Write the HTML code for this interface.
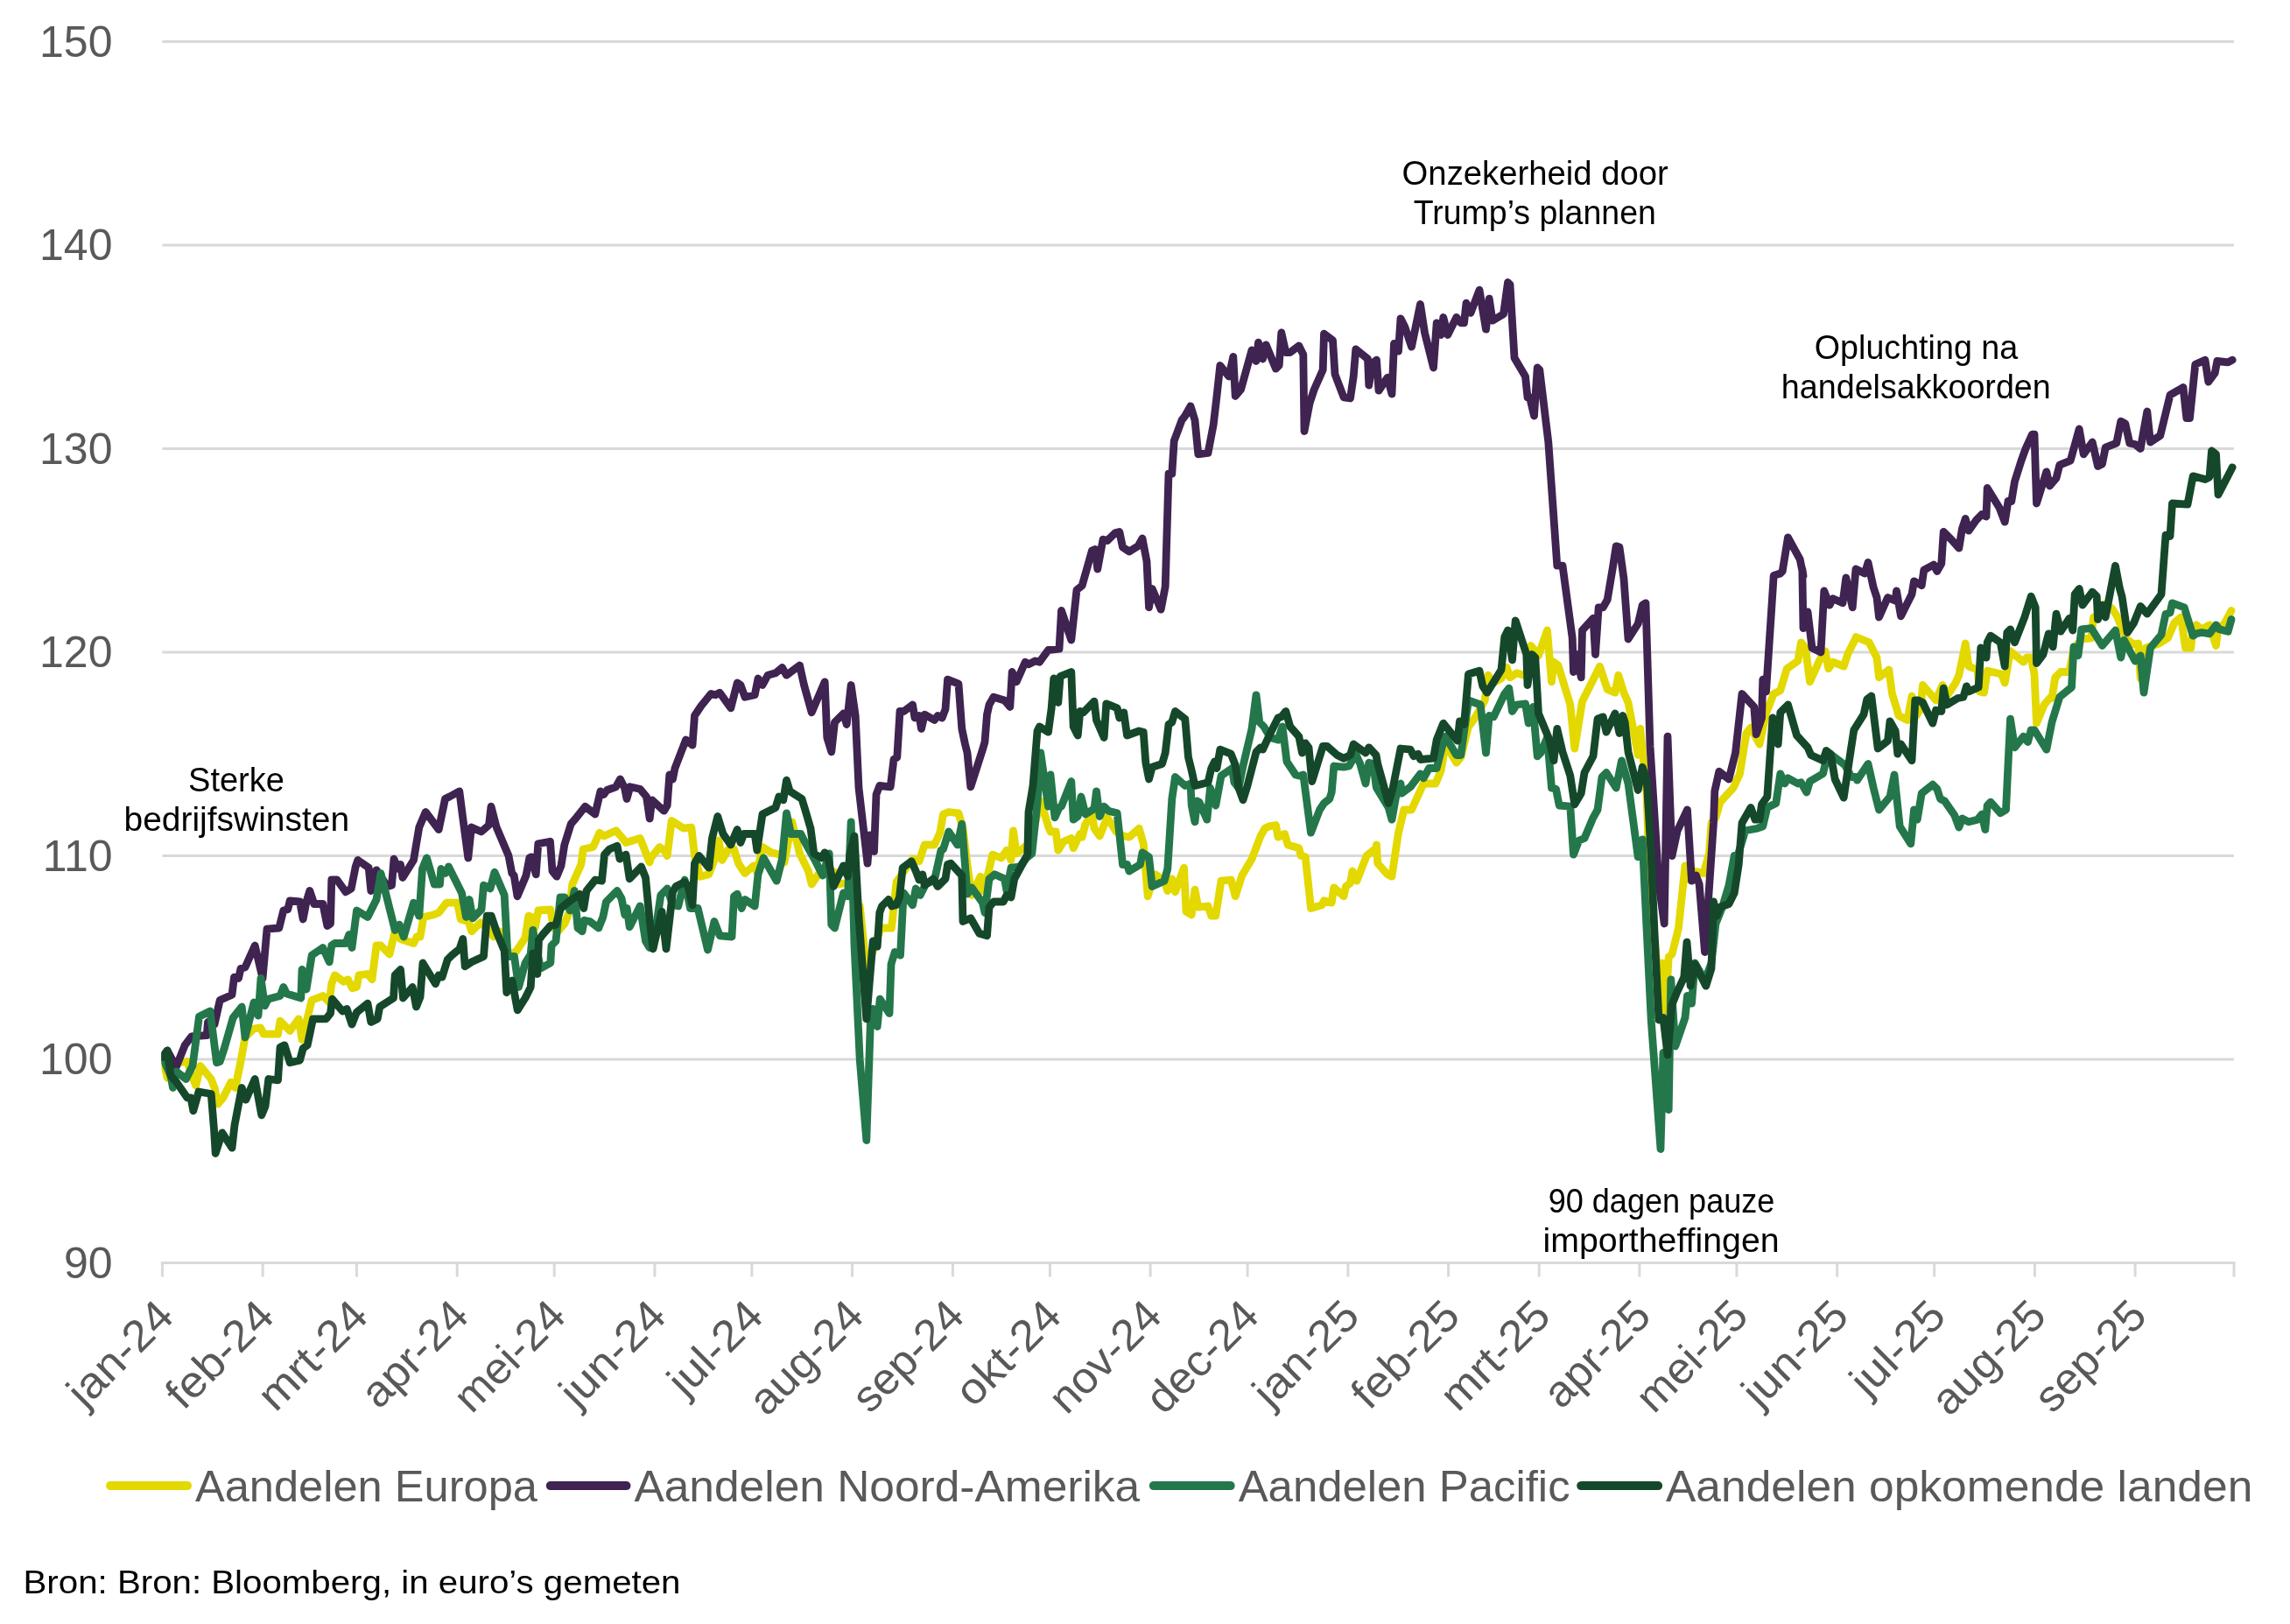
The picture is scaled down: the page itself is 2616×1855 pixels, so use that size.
<!DOCTYPE html>
<html lang="nl"><head><meta charset="utf-8"><title>Aandelen per regio</title>
<style>html,body{margin:0;padding:0;background:#fff}body{width:2616px;height:1855px;overflow:hidden}svg{display:block}text{font-family:"Liberation Sans",sans-serif}.ax{font-size:50px;fill:#595959}.an{font-size:38px;fill:#000}.src{font-size:37px;fill:#000}</style></head><body>
<svg width="2616" height="1855" viewBox="0 0 2616 1855">
<rect width="2616" height="1855" fill="#fff"/>
<line x1="185.4" y1="47.4" x2="2552.0" y2="47.4" stroke="#D9D9D9" stroke-width="3"/>
<line x1="185.4" y1="279.9" x2="2552.0" y2="279.9" stroke="#D9D9D9" stroke-width="3"/>
<line x1="185.4" y1="512.4" x2="2552.0" y2="512.4" stroke="#D9D9D9" stroke-width="3"/>
<line x1="185.4" y1="744.9" x2="2552.0" y2="744.9" stroke="#D9D9D9" stroke-width="3"/>
<line x1="185.4" y1="977.4" x2="2552.0" y2="977.4" stroke="#D9D9D9" stroke-width="3"/>
<line x1="185.4" y1="1209.9" x2="2552.0" y2="1209.9" stroke="#D9D9D9" stroke-width="3"/>
<line x1="183.9" y1="1442.4" x2="2553.5" y2="1442.4" stroke="#D9D9D9" stroke-width="3"/>
<line x1="185.4" y1="1442.4" x2="185.4" y2="1458.4" stroke="#D9D9D9" stroke-width="3"/>
<line x1="300.1" y1="1442.4" x2="300.1" y2="1458.4" stroke="#D9D9D9" stroke-width="3"/>
<line x1="407.4" y1="1442.4" x2="407.4" y2="1458.4" stroke="#D9D9D9" stroke-width="3"/>
<line x1="522.2" y1="1442.4" x2="522.2" y2="1458.4" stroke="#D9D9D9" stroke-width="3"/>
<line x1="633.2" y1="1442.4" x2="633.2" y2="1458.4" stroke="#D9D9D9" stroke-width="3"/>
<line x1="747.9" y1="1442.4" x2="747.9" y2="1458.4" stroke="#D9D9D9" stroke-width="3"/>
<line x1="858.9" y1="1442.4" x2="858.9" y2="1458.4" stroke="#D9D9D9" stroke-width="3"/>
<line x1="973.6" y1="1442.4" x2="973.6" y2="1458.4" stroke="#D9D9D9" stroke-width="3"/>
<line x1="1088.4" y1="1442.4" x2="1088.4" y2="1458.4" stroke="#D9D9D9" stroke-width="3"/>
<line x1="1199.4" y1="1442.4" x2="1199.4" y2="1458.4" stroke="#D9D9D9" stroke-width="3"/>
<line x1="1314.1" y1="1442.4" x2="1314.1" y2="1458.4" stroke="#D9D9D9" stroke-width="3"/>
<line x1="1425.1" y1="1442.4" x2="1425.1" y2="1458.4" stroke="#D9D9D9" stroke-width="3"/>
<line x1="1539.9" y1="1442.4" x2="1539.9" y2="1458.4" stroke="#D9D9D9" stroke-width="3"/>
<line x1="1654.6" y1="1442.4" x2="1654.6" y2="1458.4" stroke="#D9D9D9" stroke-width="3"/>
<line x1="1758.2" y1="1442.4" x2="1758.2" y2="1458.4" stroke="#D9D9D9" stroke-width="3"/>
<line x1="1872.9" y1="1442.4" x2="1872.9" y2="1458.4" stroke="#D9D9D9" stroke-width="3"/>
<line x1="1983.9" y1="1442.4" x2="1983.9" y2="1458.4" stroke="#D9D9D9" stroke-width="3"/>
<line x1="2098.7" y1="1442.4" x2="2098.7" y2="1458.4" stroke="#D9D9D9" stroke-width="3"/>
<line x1="2209.7" y1="1442.4" x2="2209.7" y2="1458.4" stroke="#D9D9D9" stroke-width="3"/>
<line x1="2324.4" y1="1442.4" x2="2324.4" y2="1458.4" stroke="#D9D9D9" stroke-width="3"/>
<line x1="2439.1" y1="1442.4" x2="2439.1" y2="1458.4" stroke="#D9D9D9" stroke-width="3"/>
<line x1="2552.0" y1="1442.4" x2="2552.0" y2="1458.4" stroke="#D9D9D9" stroke-width="3"/>
<g opacity="0.999">
<text class="ax" x="128.5" y="64.7" text-anchor="end">150</text>
<text class="ax" x="128.5" y="297.2" text-anchor="end">140</text>
<text class="ax" x="128.5" y="529.7" text-anchor="end">130</text>
<text class="ax" x="128.5" y="762.2" text-anchor="end">120</text>
<text class="ax" x="128.5" y="994.7" text-anchor="end">110</text>
<text class="ax" x="128.5" y="1227.2" text-anchor="end">100</text>
<text class="ax" x="128.5" y="1459.7" text-anchor="end">90</text>
<text class="ax" transform="translate(201.1 1505.8) rotate(-45)" text-anchor="end" textLength="147.3" lengthAdjust="spacingAndGlyphs">jan-24</text>
<text class="ax" transform="translate(315.8 1505.8) rotate(-45)" text-anchor="end" textLength="150.3" lengthAdjust="spacingAndGlyphs">feb-24</text>
<text class="ax" transform="translate(423.1 1505.8) rotate(-45)" text-anchor="end" textLength="153.2" lengthAdjust="spacingAndGlyphs">mrt-24</text>
<text class="ax" transform="translate(537.9 1505.8) rotate(-45)" text-anchor="end" textLength="148.8" lengthAdjust="spacingAndGlyphs">apr-24</text>
<text class="ax" transform="translate(648.9 1505.8) rotate(-45)" text-anchor="end" textLength="155.9" lengthAdjust="spacingAndGlyphs">mei-24</text>
<text class="ax" transform="translate(763.6 1505.8) rotate(-45)" text-anchor="end" textLength="147.3" lengthAdjust="spacingAndGlyphs">jun-24</text>
<text class="ax" transform="translate(874.6 1505.8) rotate(-45)" text-anchor="end" textLength="129.6" lengthAdjust="spacingAndGlyphs">jul-24</text>
<text class="ax" transform="translate(989.3 1505.8) rotate(-45)" text-anchor="end" textLength="160.4" lengthAdjust="spacingAndGlyphs">aug-24</text>
<text class="ax" transform="translate(1104.1 1505.8) rotate(-45)" text-anchor="end" textLength="156.0" lengthAdjust="spacingAndGlyphs">sep-24</text>
<text class="ax" transform="translate(1215.1 1505.8) rotate(-45)" text-anchor="end" textLength="146.0" lengthAdjust="spacingAndGlyphs">okt-24</text>
<text class="ax" transform="translate(1329.8 1505.8) rotate(-45)" text-anchor="end" textLength="157.5" lengthAdjust="spacingAndGlyphs">nov-24</text>
<text class="ax" transform="translate(1440.8 1505.8) rotate(-45)" text-anchor="end" textLength="157.5" lengthAdjust="spacingAndGlyphs">dec-24</text>
<text class="ax" transform="translate(1555.6 1505.8) rotate(-45)" text-anchor="end" textLength="147.3" lengthAdjust="spacingAndGlyphs">jan-25</text>
<text class="ax" transform="translate(1670.3 1505.8) rotate(-45)" text-anchor="end" textLength="150.3" lengthAdjust="spacingAndGlyphs">feb-25</text>
<text class="ax" transform="translate(1773.9 1505.8) rotate(-45)" text-anchor="end" textLength="153.2" lengthAdjust="spacingAndGlyphs">mrt-25</text>
<text class="ax" transform="translate(1888.6 1505.8) rotate(-45)" text-anchor="end" textLength="148.8" lengthAdjust="spacingAndGlyphs">apr-25</text>
<text class="ax" transform="translate(1999.6 1505.8) rotate(-45)" text-anchor="end" textLength="155.9" lengthAdjust="spacingAndGlyphs">mei-25</text>
<text class="ax" transform="translate(2114.4 1505.8) rotate(-45)" text-anchor="end" textLength="147.3" lengthAdjust="spacingAndGlyphs">jun-25</text>
<text class="ax" transform="translate(2225.4 1505.8) rotate(-45)" text-anchor="end" textLength="129.6" lengthAdjust="spacingAndGlyphs">jul-25</text>
<text class="ax" transform="translate(2340.1 1505.8) rotate(-45)" text-anchor="end" textLength="160.4" lengthAdjust="spacingAndGlyphs">aug-25</text>
<text class="ax" transform="translate(2454.8 1505.8) rotate(-45)" text-anchor="end" textLength="156.0" lengthAdjust="spacingAndGlyphs">sep-25</text>
</g>
<clipPath id="plot"><rect x="184.4" y="0" width="2396.6" height="1600"/></clipPath><g clip-path="url(#plot)">
<path d="M185.5 1207.5 L191.2 1231.2 L197.5 1215.0 L213.8 1212.5 L221.2 1233.8 L223.8 1240.0 L228.8 1217.5 L241.2 1232.5 L245.0 1242.5 L248.8 1261.2 L255.0 1253.8 L263.8 1236.2 L268.8 1242.5 L275.0 1212.5 L280.0 1185.0 L290.0 1175.0 L297.5 1173.8 L301.2 1181.2 L317.5 1181.2 L320.0 1166.2 L331.2 1177.5 L341.2 1163.8 L345.0 1187.5 L356.2 1142.5 L368.8 1137.5 L376.2 1145.0 L378.8 1123.8 L382.5 1113.8 L392.5 1121.2 L397.5 1118.8 L402.5 1128.8 L407.5 1127.5 L410.0 1113.8 L420.0 1112.5 L425.0 1118.8 L430.0 1080.0 L435.0 1080.0 L445.0 1090.0 L451.2 1063.8 L457.5 1072.5 L472.5 1077.5 L476.2 1070.0 L480.0 1070.0 L483.8 1047.5 L495.0 1045.0 L501.2 1042.5 L510.0 1031.2 L522.5 1031.2 L526.2 1050.0 L535.0 1052.5 L538.8 1063.8 L548.8 1053.8 L560.0 1063.8 L563.8 1070.0 L571.2 1063.8 L580.0 1092.5 L590.0 1086.2 L600.0 1071.2 L603.8 1046.2 L607.5 1047.5 L611.2 1060.0 L615.0 1040.0 L628.8 1038.8 L632.5 1060.0 L637.5 1063.8 L645.0 1055.0 L650.0 1042.5 L653.8 1010.0 L663.8 987.5 L666.2 970.0 L677.5 967.5 L685.0 951.2 L690.0 955.0 L703.8 948.8 L711.2 957.5 L715.0 962.5 L731.2 957.5 L736.2 970.0 L742.0 985.0 L743.5 980.0 L753.5 967.5 L759.8 972.5 L762.2 977.5 L767.2 937.5 L781.0 946.2 L789.8 945.0 L793.5 977.5 L799.8 1001.2 L809.8 998.8 L816.0 982.5 L821.0 960.0 L824.8 982.5 L832.2 970.0 L838.5 970.0 L843.5 986.2 L851.0 997.5 L861.0 988.8 L864.8 996.2 L871.0 967.5 L881.0 973.8 L891.0 976.2 L896.0 985.0 L904.8 938.8 L913.5 975.0 L923.5 995.0 L927.2 1010.0 L934.8 998.8 L953.5 996.2 L958.5 1010.0 L971.0 1007.5 L978.5 1035.0 L982.2 1035.0 L989.8 1107.5 L996.0 1090.0 L1006.0 1060.0 L1018.5 1060.0 L1024.0 1007.5 L1025.0 1006.2 L1036.2 990.0 L1042.5 981.2 L1050.0 983.8 L1056.2 965.0 L1067.5 965.0 L1073.8 951.2 L1077.5 930.0 L1083.8 927.5 L1095.0 928.8 L1100.0 946.2 L1105.0 987.5 L1110.0 1022.5 L1120.0 1001.2 L1122.5 1017.5 L1127.5 1003.8 L1133.8 976.2 L1143.8 980.0 L1150.0 971.2 L1155.0 982.5 L1157.5 948.8 L1161.2 975.0 L1173.8 965.0 L1182.5 940.0 L1188.8 915.0 L1197.5 943.8 L1200.0 950.0 L1206.2 950.0 L1208.8 971.2 L1215.0 961.2 L1223.8 957.5 L1226.2 968.8 L1233.8 952.5 L1236.2 956.2 L1240.0 941.2 L1247.5 930.0 L1250.0 946.2 L1256.2 955.0 L1261.2 942.5 L1265.0 933.8 L1275.0 950.0 L1283.8 955.0 L1290.0 956.2 L1301.2 946.2 L1306.2 963.8 L1311.2 1023.8 L1315.0 1011.2 L1320.0 998.8 L1330.0 1006.2 L1333.8 1017.5 L1338.8 1003.8 L1342.5 1018.8 L1352.5 991.2 L1355.0 1041.2 L1361.2 1045.0 L1365.0 1016.2 L1368.8 1036.2 L1380.0 1035.0 L1383.8 1046.2 L1388.8 1046.2 L1395.0 1006.2 L1406.2 1005.0 L1411.2 1023.8 L1418.8 1000.0 L1430.0 981.2 L1440.0 955.0 L1445.0 946.2 L1450.0 943.8 L1457.5 942.5 L1460.0 956.2 L1467.5 952.5 L1471.2 965.0 L1483.8 968.8 L1486.2 977.5 L1491.2 978.8 L1497.5 1037.5 L1510.0 1033.8 L1512.5 1028.8 L1521.2 1031.2 L1523.8 1013.8 L1535.0 1023.8 L1537.5 1012.5 L1542.5 1008.8 L1545.0 995.0 L1550.0 1006.2 L1561.2 977.5 L1572.0 968.8 L1572.5 965.0 L1573.8 986.2 L1585.0 998.8 L1590.0 1001.2 L1597.5 951.2 L1603.8 925.0 L1612.5 925.0 L1626.2 895.0 L1640.0 895.0 L1646.2 880.0 L1651.2 850.0 L1663.8 871.2 L1668.8 865.0 L1677.5 830.0 L1685.0 820.0 L1696.2 800.0 L1700.0 771.2 L1706.2 780.0 L1715.0 775.0 L1721.2 762.5 L1725.0 773.8 L1732.5 768.8 L1745.0 772.5 L1748.8 737.5 L1757.5 748.8 L1767.5 720.0 L1772.5 778.8 L1775.0 756.2 L1780.0 760.0 L1793.8 805.0 L1798.8 855.0 L1807.5 801.2 L1817.5 781.2 L1827.5 761.2 L1836.2 787.5 L1845.0 791.2 L1848.8 771.2 L1855.0 791.2 L1860.0 802.5 L1866.2 835.0 L1871.2 862.5 L1873.8 832.5 L1877.5 870.0 L1881.0 905.0 L1884.5 1010.0 L1895.0 1125.0 L1898.8 1100.0 L1902.5 1157.0 L1906.2 1093.0 L1910.0 1090.0 L1917.5 1060.0 L1925.0 988.8 L1930.0 1005.0 L1935.0 995.0 L1946.2 997.5 L1952.5 975.0 L1955.0 940.0 L1960.0 933.8 L1965.0 916.2 L1980.0 900.0 L1987.5 883.8 L1995.0 837.5 L2000.0 831.2 L2010.0 850.0 L2017.5 815.0 L2026.2 792.5 L2033.8 788.8 L2041.2 763.8 L2053.8 755.0 L2057.5 733.8 L2062.5 740.0 L2067.5 778.8 L2078.8 753.8 L2085.0 743.8 L2088.8 763.8 L2093.8 756.2 L2106.2 761.2 L2111.2 746.2 L2120.0 728.8 L2120.2 727.5 L2135.2 733.8 L2144.0 751.2 L2146.5 773.8 L2157.8 765.0 L2161.5 792.5 L2166.5 808.8 L2169.0 817.5 L2179.0 822.5 L2184.0 795.0 L2189.0 817.5 L2194.0 810.0 L2196.5 782.5 L2211.5 800.0 L2219.0 782.5 L2224.0 795.0 L2234.0 780.0 L2237.8 771.2 L2242.8 747.5 L2245.2 735.0 L2249.0 761.2 L2259.0 765.0 L2261.5 790.0 L2266.5 791.2 L2270.2 766.2 L2286.5 770.0 L2290.2 780.0 L2296.5 743.8 L2304.0 750.0 L2311.5 756.2 L2315.2 751.2 L2320.2 751.2 L2324.0 770.0 L2326.5 826.2 L2335.2 805.0 L2341.5 797.5 L2344.0 797.5 L2347.8 773.8 L2354.0 767.5 L2364.0 767.5 L2369.0 740.0 L2379.0 730.0 L2389.0 728.8 L2391.5 705.0 L2399.0 702.5 L2404.0 690.0 L2412.8 695.0 L2419.0 705.0 L2429.0 730.0 L2437.8 736.2 L2442.8 735.0 L2445.2 775.0 L2451.5 740.0 L2466.5 735.0 L2476.5 728.8 L2484.0 711.2 L2491.5 705.0 L2496.5 740.0 L2502.8 740.0 L2505.2 717.5 L2509.0 713.8 L2515.2 718.8 L2524.0 713.8 L2531.5 737.5 L2534.0 716.2 L2540.2 713.8 L2549.0 697.5" fill="none" stroke="#E3D800" stroke-width="8.8" stroke-linejoin="round" stroke-linecap="round"/>
<path d="M185.5 1207.5 L191.2 1200.0 L201.2 1218.8 L211.2 1193.8 L218.8 1183.8 L236.2 1182.5 L237.5 1167.5 L245.0 1170.0 L251.2 1142.5 L265.0 1136.2 L267.5 1116.2 L272.5 1117.5 L275.0 1106.2 L280.0 1105.0 L291.2 1080.0 L300.0 1117.5 L305.0 1061.2 L318.8 1060.0 L323.8 1040.0 L328.8 1038.8 L331.2 1028.8 L342.5 1030.0 L346.2 1050.0 L350.0 1030.0 L353.8 1017.5 L358.8 1032.5 L368.8 1032.5 L373.8 1057.5 L377.5 1055.0 L378.8 1005.0 L385.0 1005.0 L395.0 1018.8 L401.2 1015.0 L406.2 990.0 L408.8 982.5 L421.2 991.2 L423.8 1017.5 L427.5 1002.5 L430.0 993.8 L442.5 1012.5 L447.5 1011.2 L450.0 981.2 L455.0 992.5 L457.5 987.5 L460.0 1002.5 L472.5 982.5 L478.8 945.0 L486.2 927.5 L501.2 947.5 L508.5 912.5 L513.5 910.0 L524.8 903.8 L528.5 932.5 L534.8 980.0 L538.5 945.0 L549.8 950.0 L558.5 942.5 L561.0 921.2 L567.2 945.0 L581.0 977.5 L584.8 997.5 L587.2 1000.0 L591.0 1023.8 L601.0 1000.0 L604.8 980.0 L607.2 978.8 L612.2 998.8 L614.8 963.8 L628.5 961.2 L631.0 995.0 L636.0 1001.2 L641.0 988.8 L644.8 965.0 L652.2 941.2 L658.5 933.8 L668.5 921.2 L679.8 930.0 L686.0 903.8 L689.8 907.5 L693.5 902.5 L703.5 898.8 L708.5 890.0 L713.5 900.0 L716.0 912.5 L719.8 898.8 L731.0 901.2 L738.5 910.0 L742.2 935.0 L744.8 913.8 L758.5 926.2 L762.2 920.0 L764.8 885.0 L768.5 890.0 L771.0 877.5 L783.5 845.0 L791.0 851.2 L793.5 817.5 L801.0 806.2 L812.2 792.5 L817.2 793.8 L822.2 791.2 L834.8 808.8 L842.2 780.0 L846.0 782.5 L851.0 796.2 L862.2 793.8 L866.0 775.0 L871.0 782.5 L877.2 771.2 L886.0 768.8 L893.5 762.5 L898.5 771.2 L913.5 760.0 L918.5 782.5 L927.2 813.8 L942.2 778.8 L944.8 842.5 L949.8 858.8 L953.5 825.0 L963.5 815.0 L967.2 827.5 L972.2 782.5 L977.2 817.5 L981.0 900.0 L991.0 986.2 L993.5 953.8 L998.5 972.5 L1001.0 907.5 L1004.8 897.5 L1017.2 898.8 L1021.0 867.5 L1024.8 865.0 L1028.0 812.5 L1032.5 812.5 L1042.5 805.0 L1045.0 820.0 L1050.0 817.5 L1052.5 832.5 L1056.2 816.2 L1067.5 822.5 L1071.2 817.5 L1076.2 820.0 L1080.0 810.0 L1082.5 776.2 L1095.0 781.2 L1098.8 832.5 L1102.5 850.0 L1105.0 860.0 L1108.8 898.8 L1122.5 856.2 L1125.0 847.5 L1127.5 816.2 L1130.0 805.0 L1135.0 796.2 L1147.5 800.0 L1153.8 807.5 L1156.2 767.5 L1161.2 778.8 L1171.2 756.2 L1175.0 758.8 L1182.5 755.0 L1187.5 756.2 L1197.5 742.5 L1210.0 741.2 L1212.5 697.5 L1223.8 731.0 L1230.0 673.8 L1236.2 668.8 L1247.5 628.8 L1251.2 627.5 L1253.8 650.0 L1260.0 616.2 L1265.0 617.5 L1273.8 608.8 L1278.8 607.5 L1282.5 625.0 L1290.0 630.0 L1300.0 623.8 L1305.0 615.0 L1310.0 641.2 L1312.5 693.8 L1316.2 672.5 L1326.2 696.2 L1331.2 670.0 L1335.0 541.2 L1338.8 541.2 L1341.2 503.8 L1350.0 480.0 L1353.8 475.0 L1360.0 463.8 L1365.0 480.0 L1368.8 518.8 L1380.0 517.5 L1386.2 485.0 L1390.0 452.5 L1393.8 417.5 L1403.8 430.0 L1408.8 407.5 L1411.2 452.5 L1417.5 445.0 L1430.0 400.0 L1435.0 412.5 L1437.5 391.2 L1442.5 410.0 L1446.2 393.8 L1457.5 421.2 L1461.2 417.5 L1463.8 380.0 L1468.8 402.5 L1473.8 402.5 L1483.8 395.0 L1488.8 405.0 L1490.0 492.5 L1496.2 460.0 L1501.2 445.0 L1511.2 422.5 L1512.5 381.2 L1522.5 388.8 L1525.0 427.5 L1535.0 453.8 L1542.5 455.0 L1546.2 430.0 L1548.8 398.8 L1562.5 410.0 L1563.8 440.0 L1567.5 415.0 L1572.5 411.2 L1575.0 446.2 L1585.0 431.2 L1590.0 450.0 L1592.5 392.5 L1597.5 401.2 L1600.0 363.8 L1605.0 373.8 L1612.5 396.2 L1622.5 347.5 L1627.5 380.0 L1637.5 420.0 L1641.2 368.8 L1646.2 382.5 L1648.8 362.5 L1653.8 382.5 L1663.8 362.5 L1668.8 368.8 L1672.5 368.8 L1675.0 346.2 L1680.0 357.5 L1690.0 331.2 L1697.5 376.2 L1701.2 341.2 L1705.0 366.2 L1717.5 358.8 L1722.5 322.5 L1725.0 325.0 L1730.0 408.8 L1742.5 430.0 L1745.0 453.8 L1747.5 453.8 L1752.5 475.0 L1756.2 420.0 L1758.8 422.5 L1768.8 505.0 L1778.8 646.2 L1785.0 646.2 L1796.2 728.8 L1797.5 767.5 L1801.2 747.5 L1806.2 773.8 L1807.5 720.0 L1820.0 706.2 L1822.5 747.5 L1826.2 693.8 L1831.2 693.8 L1836.2 685.0 L1842.5 647.5 L1846.2 623.8 L1850.0 625.0 L1855.0 661.2 L1860.0 730.0 L1871.2 712.5 L1876.2 691.2 L1880.0 688.8 L1885.0 852.5 L1895.0 1010.0 L1901.2 1055.0 L1905.0 841.2 L1910.0 977.5 L1916.2 948.8 L1927.5 925.0 L1932.5 1006.2 L1937.5 1000.0 L1941.2 1010.0 L1947.5 1087.5 L1957.5 940.0 L1958.8 903.8 L1963.8 881.2 L1975.0 890.0 L1982.5 860.0 L1990.0 792.5 L2003.8 807.5 L2006.2 838.8 L2012.5 820.0 L2013.8 776.2 L2017.5 790.0 L2026.2 657.5 L2033.8 655.0 L2036.2 652.5 L2042.5 613.8 L2056.2 638.8 L2060.0 657.5 L2058.8 650.0 L2060.0 717.5 L2065.0 698.8 L2070.0 740.0 L2080.0 745.0 L2083.8 675.0 L2090.0 691.2 L2093.8 683.8 L2105.0 688.8 L2108.8 660.0 L2116.2 693.8 L2120.0 650.0 L2130.2 655.0 L2134.0 642.5 L2140.2 671.2 L2144.0 682.5 L2146.5 705.0 L2156.5 682.5 L2165.2 686.2 L2166.5 675.0 L2171.5 703.8 L2184.0 678.8 L2186.5 663.8 L2195.2 668.8 L2197.8 651.2 L2209.0 645.0 L2212.8 652.5 L2217.8 643.8 L2220.2 607.5 L2229.0 616.2 L2237.8 626.2 L2241.5 603.8 L2245.2 592.5 L2249.0 606.2 L2257.8 593.8 L2264.0 587.5 L2269.0 590.0 L2270.2 557.5 L2284.0 580.0 L2290.2 596.2 L2294.0 572.5 L2297.8 572.5 L2301.5 550.0 L2309.0 526.2 L2314.0 512.5 L2321.5 496.2 L2324.0 496.2 L2326.5 575.0 L2337.8 538.8 L2341.5 555.0 L2349.0 546.2 L2352.8 531.2 L2365.2 526.2 L2375.2 490.0 L2380.2 518.8 L2390.2 505.0 L2396.5 532.5 L2401.5 530.0 L2405.2 511.2 L2417.8 506.2 L2422.8 481.2 L2427.8 483.8 L2432.8 506.2 L2439.0 507.5 L2445.2 512.5 L2452.8 470.0 L2456.5 505.0 L2467.8 497.5 L2479.0 451.2 L2487.8 446.2 L2494.0 442.5 L2497.8 477.5 L2501.5 477.5 L2507.8 416.2 L2519.0 411.2 L2522.8 436.2 L2530.2 426.2 L2532.8 412.5 L2545.2 413.8 L2550.2 411.2" fill="none" stroke="#3F2350" stroke-width="8.8" stroke-linejoin="round" stroke-linecap="round"/>
<path d="M185.5 1207.5 L195.0 1228.8 L197.5 1242.5 L201.2 1223.8 L212.5 1232.5 L220.0 1217.5 L227.5 1161.2 L240.0 1155.0 L247.5 1213.8 L251.2 1212.5 L256.2 1197.5 L266.2 1162.5 L276.2 1150.0 L280.0 1185.0 L290.0 1145.0 L295.0 1160.0 L298.0 1117.5 L302.5 1148.8 L306.2 1141.2 L320.0 1137.5 L323.8 1127.5 L327.5 1135.0 L343.8 1140.0 L345.0 1107.5 L350.0 1130.0 L356.2 1091.2 L368.8 1082.5 L376.2 1098.8 L378.8 1080.0 L382.5 1077.5 L395.0 1077.5 L398.8 1067.5 L402.0 1082.5 L407.5 1040.0 L420.0 1047.5 L430.0 1027.5 L435.0 997.5 L451.2 1062.5 L456.2 1056.2 L461.2 1070.0 L472.5 1031.2 L478.8 1046.2 L482.5 992.5 L487.5 980.0 L496.2 1010.0 L502.5 1010.0 L503.8 992.5 L508.8 997.5 L512.5 990.0 L527.5 1020.0 L532.5 1047.5 L536.2 1027.5 L540.0 1048.8 L550.0 1038.8 L552.5 1011.2 L560.0 1015.0 L565.0 996.2 L576.2 1022.5 L580.0 1092.5 L587.5 1092.5 L592.5 1127.5 L600.0 1100.0 L606.2 1090.0 L608.8 1062.5 L617.5 1106.2 L628.8 1100.0 L630.0 1080.0 L635.0 1075.0 L640.0 1025.0 L645.0 1025.0 L651.2 1040.0 L656.2 1017.5 L660.0 1060.0 L665.0 1063.8 L667.5 1051.2 L673.8 1052.5 L683.8 1060.0 L688.8 1047.5 L692.5 1030.0 L705.0 1017.5 L710.0 1026.2 L713.8 1045.0 L716.2 1037.5 L719.2 1058.8 L731.2 1035.0 L737.5 1075.0 L742.0 1082.5 L746.0 1082.5 L754.8 1022.5 L762.2 1015.0 L768.5 1033.8 L774.8 1035.0 L782.2 1005.0 L788.5 1037.5 L797.2 1037.5 L808.5 1085.0 L816.0 1052.5 L822.2 1068.8 L836.0 1070.0 L838.5 1023.8 L842.2 1021.2 L847.2 1037.5 L851.0 1027.5 L862.2 1035.0 L866.0 998.8 L872.2 980.0 L887.2 1006.2 L893.5 981.2 L898.5 928.8 L903.5 952.5 L914.8 952.5 L918.5 960.0 L931.0 982.5 L939.8 1000.0 L947.2 975.0 L949.8 1056.2 L953.5 1060.0 L963.5 1020.0 L968.5 1023.8 L972.2 938.8 L976.0 1080.0 L982.2 1210.0 L989.8 1302.5 L994.8 1155.0 L997.2 1152.5 L1002.2 1172.5 L1005.2 1141.2 L1016.0 1157.5 L1018.0 1101.2 L1022.2 1087.5 L1028.5 1091.2 L1032.2 1020.0 L1042.5 1033.8 L1046.2 1015.0 L1051.2 1022.5 L1057.5 1010.0 L1067.5 1005.0 L1075.0 971.2 L1077.5 970.0 L1083.8 950.0 L1093.8 965.0 L1098.8 941.2 L1105.0 1021.2 L1110.0 1013.8 L1122.5 1031.2 L1125.0 1042.5 L1130.0 1003.8 L1136.2 998.8 L1147.5 1003.8 L1150.0 1017.5 L1155.0 991.2 L1165.0 990.0 L1172.5 980.0 L1178.8 975.0 L1185.0 917.5 L1188.8 860.0 L1197.5 921.2 L1200.0 885.0 L1205.0 933.8 L1210.0 922.5 L1212.5 921.2 L1223.8 892.5 L1226.2 936.2 L1231.2 932.5 L1235.0 910.0 L1240.0 930.0 L1250.0 923.8 L1252.5 903.8 L1256.2 932.5 L1261.2 921.2 L1266.2 926.2 L1276.2 928.8 L1282.5 987.5 L1287.5 987.5 L1290.0 995.0 L1302.5 987.5 L1305.0 973.8 L1312.5 978.8 L1316.2 1012.5 L1330.0 1006.2 L1333.8 992.5 L1338.8 912.5 L1342.5 887.5 L1353.8 897.5 L1360.0 895.0 L1361.2 920.0 L1365.0 938.8 L1367.5 915.0 L1370.0 916.2 L1378.8 936.2 L1382.5 900.0 L1388.8 920.0 L1395.0 886.2 L1407.5 877.5 L1410.0 893.8 L1415.0 900.0 L1420.0 875.0 L1430.0 832.5 L1435.0 793.8 L1438.8 825.0 L1443.8 830.0 L1451.2 842.5 L1460.0 845.0 L1465.0 830.0 L1470.0 870.0 L1480.0 885.0 L1485.0 886.2 L1488.8 885.0 L1497.5 951.2 L1507.5 925.0 L1512.5 917.5 L1518.8 912.5 L1521.2 905.0 L1523.8 875.0 L1535.0 876.2 L1541.2 875.0 L1548.8 861.2 L1553.8 872.5 L1560.0 895.0 L1563.8 871.2 L1568.8 872.5 L1572.0 897.5 L1572.5 900.0 L1586.2 922.5 L1590.0 936.2 L1596.2 901.2 L1600.0 895.0 L1601.2 906.2 L1611.2 898.8 L1622.5 883.8 L1626.2 888.8 L1632.5 877.5 L1641.2 877.5 L1647.5 852.5 L1651.2 841.2 L1663.8 862.5 L1668.8 862.5 L1677.5 800.0 L1691.2 805.0 L1697.5 860.0 L1701.2 817.5 L1706.2 818.8 L1718.8 792.5 L1723.8 786.2 L1727.5 812.5 L1732.5 805.0 L1742.5 803.8 L1746.2 826.2 L1751.2 807.5 L1756.2 863.8 L1760.0 860.0 L1767.5 842.5 L1772.5 900.0 L1777.5 901.2 L1781.2 920.0 L1793.8 921.2 L1797.5 976.2 L1803.8 960.0 L1810.0 957.5 L1820.0 933.8 L1825.0 925.0 L1830.0 887.5 L1835.0 882.5 L1846.2 900.0 L1852.5 868.8 L1860.0 895.0 L1871.2 978.8 L1876.2 958.8 L1878.8 1015.0 L1886.2 1165.0 L1897.0 1312.5 L1900.0 1202.5 L1906.2 1267.5 L1908.8 1118.8 L1913.8 1195.0 L1925.0 1162.5 L1927.5 1137.5 L1932.5 1146.2 L1936.2 1100.0 L1947.5 1120.0 L1955.0 1100.0 L1960.0 1055.0 L1967.5 1036.2 L1975.0 1011.2 L1981.2 977.5 L1985.0 977.5 L1993.8 948.8 L2007.5 946.2 L2013.8 943.8 L2018.8 922.5 L2028.8 917.5 L2033.8 883.8 L2038.8 895.0 L2042.5 888.8 L2053.8 895.0 L2057.5 893.8 L2063.8 905.0 L2067.5 892.5 L2082.5 883.8 L2087.5 862.5 L2092.5 862.5 L2107.5 873.8 L2115.0 887.5 L2120.0 887.5 L2121.5 891.2 L2134.0 872.5 L2140.2 900.0 L2146.5 925.0 L2159.0 910.0 L2164.0 885.0 L2170.2 943.8 L2182.8 963.8 L2186.5 925.0 L2190.2 936.2 L2195.2 906.2 L2207.8 896.2 L2212.8 901.2 L2216.5 912.5 L2221.5 915.0 L2232.8 931.2 L2237.8 945.0 L2241.5 935.0 L2249.0 938.8 L2259.0 936.2 L2264.0 930.0 L2267.8 947.5 L2270.2 920.0 L2274.0 916.2 L2285.2 928.8 L2291.5 925.0 L2296.5 821.2 L2301.5 853.8 L2311.5 841.2 L2316.5 847.5 L2320.2 833.8 L2324.0 833.8 L2337.8 856.2 L2344.0 825.0 L2352.8 796.2 L2366.5 785.0 L2369.0 738.8 L2374.0 748.8 L2377.8 718.8 L2389.0 717.5 L2401.5 737.5 L2416.5 720.0 L2422.8 751.2 L2426.5 731.2 L2439.0 755.0 L2445.2 748.8 L2449.0 791.2 L2456.5 740.0 L2469.0 725.0 L2474.0 701.2 L2479.0 700.0 L2481.5 688.8 L2495.2 693.8 L2505.2 726.2 L2509.0 723.8 L2515.2 722.5 L2524.0 723.8 L2531.5 713.8 L2535.2 718.8 L2545.2 721.2 L2549.0 707.5" fill="none" stroke="#24774A" stroke-width="8.8" stroke-linejoin="round" stroke-linecap="round"/>
<path d="M185.5 1207.5 L191.2 1200.0 L195.0 1228.8 L201.2 1235.5 L213.8 1253.8 L218.0 1253.8 L220.8 1268.8 L227.0 1247.0 L241.2 1249.5 L244.5 1290.0 L246.2 1317.5 L253.8 1293.8 L265.0 1311.2 L268.0 1285.0 L276.2 1242.5 L280.8 1256.2 L291.2 1232.5 L298.8 1273.8 L303.0 1263.8 L306.8 1232.5 L317.5 1233.8 L320.0 1196.2 L325.0 1193.8 L331.2 1213.8 L342.5 1211.2 L346.2 1197.5 L351.2 1193.8 L357.5 1163.8 L372.5 1163.8 L377.5 1157.5 L379.5 1141.2 L391.2 1155.0 L396.2 1152.5 L402.0 1170.0 L407.5 1156.2 L420.0 1146.2 L423.8 1167.5 L431.2 1163.8 L433.8 1150.0 L449.5 1140.0 L451.2 1113.8 L457.5 1107.5 L460.5 1140.0 L471.2 1127.5 L475.5 1150.0 L480.0 1138.8 L483.0 1100.0 L497.5 1123.8 L501.2 1113.8 L505.0 1116.2 L511.2 1096.2 L516.2 1091.2 L525.0 1083.8 L528.8 1072.5 L531.2 1103.8 L538.8 1098.8 L552.5 1092.5 L556.2 1046.2 L561.2 1046.2 L567.5 1065.0 L576.2 1086.2 L578.8 1133.8 L585.0 1120.0 L591.2 1153.8 L600.0 1140.0 L606.2 1127.5 L608.8 1088.8 L613.8 1112.5 L615.5 1073.8 L620.0 1067.5 L628.8 1057.5 L635.0 1056.2 L640.5 1037.5 L651.2 1028.8 L662.5 1021.2 L666.8 1037.5 L670.0 1017.5 L680.0 1005.0 L687.5 1006.2 L690.5 976.2 L696.2 970.0 L705.0 966.2 L708.0 981.2 L715.0 976.2 L719.2 1003.8 L732.5 990.0 L737.5 1002.5 L742.0 1050.0 L746.0 1083.8 L756.0 1041.2 L761.0 1083.8 L768.5 1018.8 L772.2 1012.5 L782.2 1007.5 L786.0 1012.5 L791.0 1033.8 L793.5 986.2 L798.5 977.5 L809.8 991.2 L813.5 957.5 L819.8 932.5 L826.0 952.5 L834.8 965.0 L842.2 947.5 L846.0 962.5 L849.8 952.5 L862.2 952.5 L864.8 971.2 L871.0 930.0 L886.0 922.5 L889.8 910.0 L894.8 913.8 L898.5 891.2 L902.2 903.8 L916.0 912.5 L919.8 925.0 L926.0 946.2 L929.8 975.0 L938.5 980.0 L942.2 973.8 L946.0 980.0 L952.2 1012.5 L963.5 988.8 L968.5 1001.2 L971.0 975.0 L976.0 955.0 L981.0 1047.5 L989.8 1163.8 L997.2 1075.0 L1002.2 1081.2 L1004.8 1042.5 L1007.5 1035.0 L1015.0 1027.5 L1018.8 1035.0 L1023.8 1033.8 L1027.5 1025.0 L1031.2 991.2 L1041.2 983.8 L1046.2 995.0 L1050.0 1005.0 L1053.8 998.8 L1056.2 1011.2 L1066.2 1003.8 L1071.2 1012.5 L1080.0 1003.8 L1082.5 987.5 L1086.2 986.2 L1098.8 1000.0 L1100.0 1052.5 L1108.8 1048.8 L1118.8 1066.2 L1127.5 1068.8 L1130.0 1036.2 L1135.0 1030.0 L1146.2 1030.0 L1150.0 1022.5 L1155.0 1025.0 L1158.8 1003.8 L1165.0 992.5 L1173.8 976.2 L1175.0 927.5 L1180.0 897.5 L1185.0 835.0 L1187.5 830.0 L1197.5 836.2 L1201.2 808.8 L1203.8 775.0 L1208.8 802.5 L1211.2 772.5 L1223.8 767.5 L1226.2 830.0 L1231.2 840.0 L1233.8 812.5 L1237.5 813.8 L1250.0 801.2 L1252.5 822.5 L1261.2 842.5 L1263.8 803.8 L1276.2 808.8 L1278.8 820.0 L1283.8 813.8 L1287.5 840.0 L1301.2 835.0 L1306.2 836.2 L1308.8 871.2 L1312.5 890.0 L1316.2 876.2 L1327.5 872.5 L1331.2 860.0 L1335.0 827.5 L1338.8 825.0 L1342.5 812.5 L1353.8 821.2 L1357.5 865.0 L1361.2 880.0 L1365.0 897.5 L1380.0 893.8 L1383.8 877.5 L1387.5 870.0 L1390.0 877.5 L1393.8 856.2 L1406.2 861.2 L1411.2 873.8 L1415.0 900.0 L1420.0 913.8 L1425.0 897.5 L1435.0 858.8 L1440.0 853.8 L1442.5 856.2 L1450.0 840.0 L1460.0 820.0 L1463.8 818.8 L1468.8 812.5 L1473.8 830.0 L1483.8 841.2 L1487.5 860.0 L1491.2 848.8 L1495.0 853.8 L1498.8 892.5 L1511.2 852.5 L1516.2 852.5 L1527.5 862.5 L1535.0 866.2 L1542.5 862.5 L1546.2 850.0 L1560.0 860.0 L1563.8 853.8 L1572.0 862.5 L1573.8 872.5 L1586.2 917.5 L1591.2 900.0 L1600.0 855.0 L1611.2 856.2 L1615.0 863.8 L1620.0 861.2 L1622.5 867.5 L1637.5 866.2 L1641.2 845.0 L1648.8 826.2 L1665.0 846.2 L1667.5 823.8 L1672.5 827.5 L1677.5 770.0 L1690.0 766.2 L1693.8 783.8 L1698.8 791.2 L1715.0 765.0 L1718.8 727.5 L1722.5 720.0 L1727.5 753.8 L1731.2 708.8 L1743.8 747.5 L1745.0 782.5 L1750.0 747.5 L1753.8 751.2 L1757.5 815.0 L1770.0 845.0 L1775.0 868.8 L1778.8 832.5 L1785.0 858.8 L1793.8 886.2 L1798.8 918.8 L1806.2 906.2 L1810.0 882.5 L1820.0 863.8 L1825.0 821.2 L1831.2 818.8 L1835.0 836.2 L1845.0 815.0 L1850.0 837.5 L1853.8 817.5 L1856.2 825.0 L1860.0 858.8 L1871.2 902.5 L1876.2 876.2 L1881.2 891.2 L1886.2 977.5 L1890.0 1065.0 L1895.0 1165.0 L1900.0 1162.5 L1905.0 1205.0 L1910.0 1147.5 L1915.0 1135.0 L1923.8 1116.2 L1927.0 1076.2 L1931.2 1126.2 L1936.2 1101.2 L1948.8 1126.2 L1955.0 1106.2 L1957.5 1030.0 L1961.2 1046.2 L1965.0 1036.2 L1975.0 1032.5 L1981.2 1020.0 L1986.2 987.5 L1990.0 940.0 L2000.0 922.5 L2005.0 936.2 L2010.0 936.2 L2012.5 918.8 L2018.8 910.0 L2025.0 820.0 L2031.2 850.0 L2033.8 813.8 L2042.5 805.0 L2052.5 840.0 L2065.0 853.8 L2068.8 862.5 L2082.5 868.8 L2086.2 857.5 L2091.2 861.2 L2096.2 890.0 L2106.2 911.2 L2113.8 860.0 L2117.8 833.8 L2129.0 816.2 L2132.8 798.8 L2137.8 795.0 L2145.2 855.0 L2156.5 846.2 L2159.0 823.8 L2165.2 835.0 L2167.8 861.2 L2171.5 850.0 L2184.0 868.8 L2187.8 800.0 L2191.5 800.0 L2196.5 802.5 L2207.8 826.2 L2211.5 811.2 L2217.8 812.5 L2220.2 786.2 L2224.0 805.0 L2236.5 797.5 L2242.8 796.2 L2246.5 783.8 L2249.0 790.0 L2260.2 785.0 L2262.8 740.0 L2269.0 751.2 L2270.2 733.8 L2274.0 726.2 L2285.2 733.8 L2290.2 761.2 L2292.8 722.5 L2296.5 718.8 L2301.5 733.8 L2312.8 705.0 L2320.2 681.2 L2325.2 693.8 L2326.5 757.5 L2334.0 747.5 L2340.2 723.8 L2345.2 738.8 L2349.0 701.2 L2354.0 721.2 L2364.0 706.2 L2367.8 720.0 L2370.2 678.8 L2375.2 672.5 L2379.0 691.2 L2390.2 676.2 L2395.2 681.2 L2396.5 707.5 L2401.5 691.2 L2405.2 705.0 L2416.5 646.2 L2421.5 672.5 L2424.0 681.2 L2430.2 722.5 L2437.8 711.2 L2445.2 692.5 L2452.8 701.2 L2469.0 678.8 L2474.0 611.2 L2479.0 612.5 L2481.5 575.0 L2499.0 576.2 L2505.2 543.8 L2519.0 547.5 L2524.0 545.0 L2526.5 515.0 L2531.5 518.8 L2534.0 565.0 L2550.2 533.8" fill="none" stroke="#15482A" stroke-width="8.8" stroke-linejoin="round" stroke-linecap="round"/>
</g>
<g opacity="0.999">
<text class="an" x="270.0" y="903.8" text-anchor="middle" textLength="109.9" lengthAdjust="spacingAndGlyphs">Sterke</text>
<text class="an" x="270.3" y="948.6" text-anchor="middle" textLength="257.5" lengthAdjust="spacingAndGlyphs">bedrijfswinsten</text>
<text class="an" x="1753.7" y="210.9" text-anchor="middle" textLength="304.2" lengthAdjust="spacingAndGlyphs">Onzekerheid door</text>
<text class="an" x="1753.3" y="255.8" text-anchor="middle" textLength="277.1" lengthAdjust="spacingAndGlyphs">Trump’s plannen</text>
<text class="an" x="2189.0" y="410.0" text-anchor="middle" textLength="232.5" lengthAdjust="spacingAndGlyphs">Opluchting na</text>
<text class="an" x="2188.8" y="454.5" text-anchor="middle" textLength="308.0" lengthAdjust="spacingAndGlyphs">handelsakkoorden</text>
<text class="an" x="1898.0" y="1384.8" text-anchor="middle" textLength="258.7" lengthAdjust="spacingAndGlyphs">90 dagen pauze</text>
<text class="an" x="1897.6" y="1429.8" text-anchor="middle" textLength="270.1" lengthAdjust="spacingAndGlyphs">importheffingen</text>
<line x1="126.1" y1="1697.1" x2="214.0" y2="1697.1" stroke="#E3D800" stroke-width="10" stroke-linecap="round"/>
<text class="ax" x="223.0" y="1714.9" textLength="390.9" lengthAdjust="spacingAndGlyphs">Aandelen Europa</text>
<line x1="628.8" y1="1697.1" x2="715.5" y2="1697.1" stroke="#3F2350" stroke-width="10" stroke-linecap="round"/>
<text class="ax" x="724.4" y="1714.9" textLength="577.8" lengthAdjust="spacingAndGlyphs">Aandelen Noord-Amerika</text>
<line x1="1317.8" y1="1697.1" x2="1405.7" y2="1697.1" stroke="#24774A" stroke-width="10" stroke-linecap="round"/>
<text class="ax" x="1414.7" y="1714.9" textLength="378.9" lengthAdjust="spacingAndGlyphs">Aandelen Pacific</text>
<line x1="1806.2" y1="1697.1" x2="1894.1" y2="1697.1" stroke="#15482A" stroke-width="10" stroke-linecap="round"/>
<text class="ax" x="1903.0" y="1714.9" textLength="670.3" lengthAdjust="spacingAndGlyphs">Aandelen opkomende landen</text>
<text class="src" x="26.5" y="1820" textLength="751" lengthAdjust="spacingAndGlyphs">Bron: Bron: Bloomberg, in euro’s gemeten</text>
</g>
</svg></body></html>
